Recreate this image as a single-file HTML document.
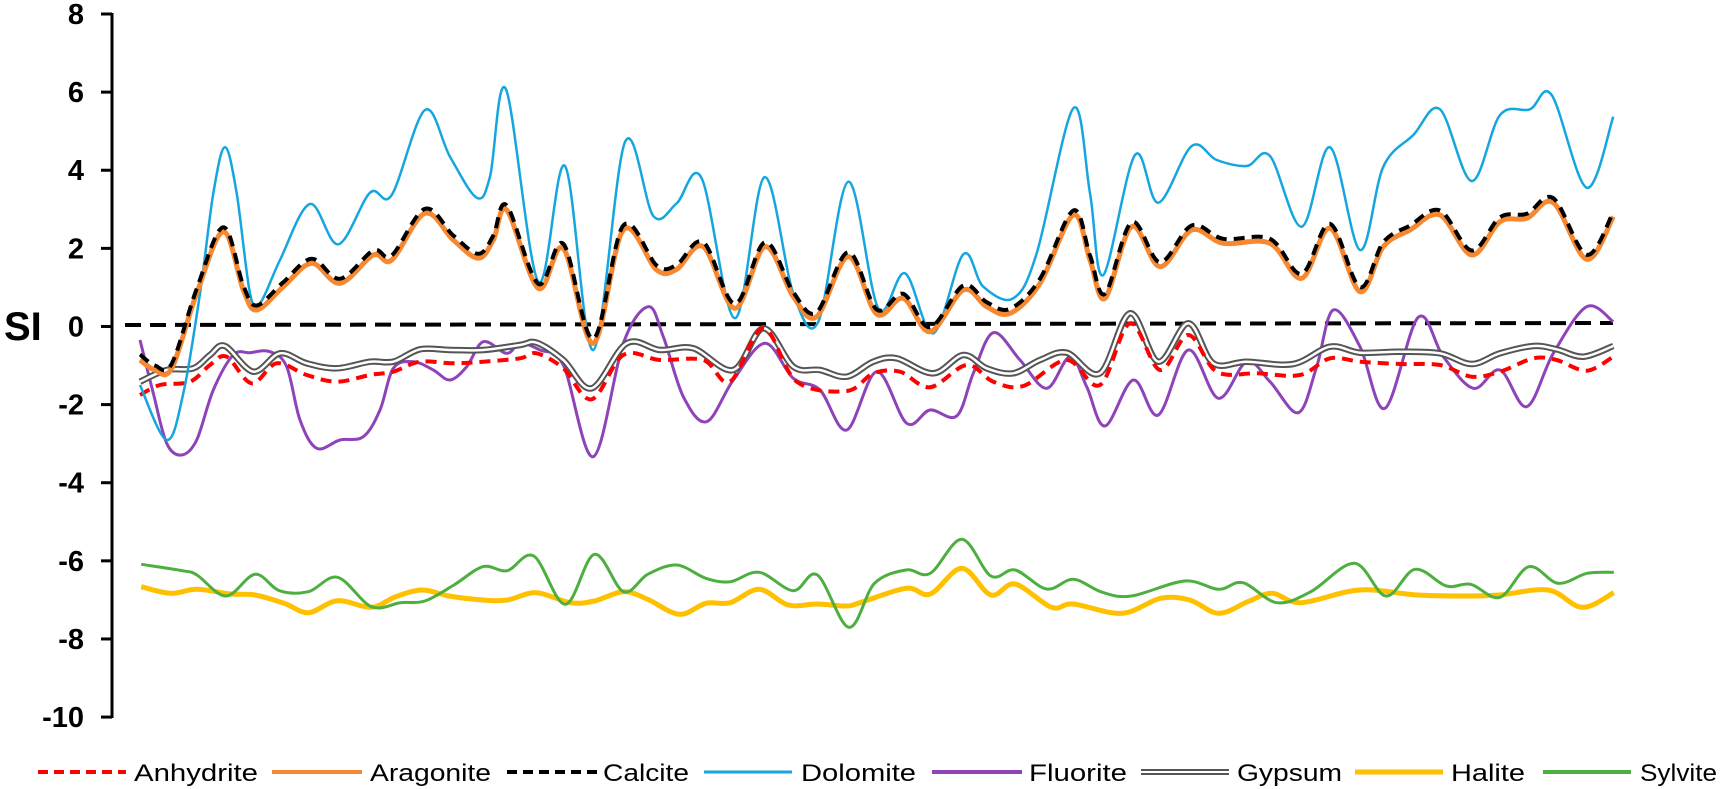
<!DOCTYPE html>
<html><head><meta charset="utf-8"><style>
html,body{margin:0;padding:0;background:#fff;}
svg{display:block;font-family:"Liberation Sans",sans-serif;}
</style></head><body>
<svg id="c" width="1720" height="789" viewBox="0 0 1720 789" xmlns="http://www.w3.org/2000/svg">
<rect width="1720" height="789" fill="#fff"/>
<g id="axis" stroke="#000" stroke-width="3" fill="none">
<line x1="112" y1="13" x2="112" y2="718"/>
</g>
<g id="ticks" stroke="#000" stroke-width="3"></g>
<g id="labels" font-weight="bold" font-size="29" text-anchor="end" fill="#000"></g>
<text x="4" y="340" font-size="40" font-weight="bold">SI</text>
<g id="series"></g>
<g id="legend" font-size="24" fill="#000"></g>
</svg>
<script>
var NS="http://www.w3.org/2000/svg";
function el(tag,attrs,parent,txt){var e=document.createElementNS(NS,tag);for(var k in attrs)e.setAttribute(k,attrs[k]);if(txt!==undefined)e.textContent=txt;parent.appendChild(e);return e;}
var tg=document.getElementById('ticks'),lg=document.getElementById('labels');
for(var v=8;v>=-10;v-=2){var y=14+(8-v)*39.06;el('line',{x1:101,y1:y,x2:112,y2:y},tg);el('text',{x:84,y:y+10},lg,String(v));}
function P(ox,arr){return arr.map(function(p){return [ox+p[0]/3,60+p[1]/3];});}
function Q(ox,arr){return arr.map(function(p){return [ox+p[0]/2.063,520+p[1]/3];});}
function path(pts){var d="M"+pts[0][0].toFixed(1)+","+pts[0][1].toFixed(1);for(var i=0;i<pts.length-1;i++){var p0=pts[i-1]||pts[i],p1=pts[i],p2=pts[i+1],p3=pts[i+2]||p2;var t=6;var c1=[p1[0]+(p2[0]-p0[0])/t,p1[1]+(p2[1]-p0[1])/t],c2=[p2[0]-(p3[0]-p1[0])/t,p2[1]-(p3[1]-p1[1])/t];d+="C"+c1[0].toFixed(1)+","+c1[1].toFixed(1)+" "+c2[0].toFixed(1)+","+c2[1].toFixed(1)+" "+p2[0].toFixed(1)+","+p2[1].toFixed(1);}return d;}
function cat(){var r=[];for(var i=0;i<arguments.length;i++)r=r.concat(arguments[i]);return r;}
function shift(a,dy){return a.map(function(p){return [p[0],p[1]+dy];});}
var dol=cat(P(100,[[120,975],[200,1140],[250,1000],[300,700],[340,400],[375,262],[410,400],[450,700],[480,730],[540,600],[630,432],[715,553],[810,398],[875,405],[975,150],[1050,290],[1130,413],[1170,350],[1218,88]]),
P(520,[[55,665],[135,318],[220,870],[315,246],[400,468],[470,430],[545,355],[645,775],[733,352],[820,700],[895,785],[985,365],[1075,745],[1155,640],[1240,820]]),
P(940,[[70,583],[130,680],[220,715],[290,580],[400,145],[450,400],[490,645],[585,285],[655,428],[755,258],[830,300],[920,318],[990,288],[1085,500],[1170,262]]),
P(1300,[[180,570],[250,320],[340,225],[420,148],[515,363],[600,165],[690,148],[755,105],[860,383],[940,170]]));
var arag=cat(P(100,[[120,900],[165,930],[215,925],[290,700],[370,515],[430,690],[470,750],[550,680],[635,610],[720,670],[820,585],[875,600],[975,460],[1060,540],[1135,595],[1180,540],[1220,450]]),
P(520,[[55,685],[130,565],[220,850],[310,510],[410,630],[470,628],[550,560],[645,745],[735,560],[820,710],[890,770],[985,590],[1070,762],[1150,715],[1230,815]]),
P(940,[[70,690],[140,740],[210,760],[300,670],[400,465],[450,600],[495,715],[575,500],[660,620],[755,510],[850,550],[990,550],[1085,655],[1170,505]]),
P(1300,[[180,695],[250,560],[330,510],[420,465],[515,585],[600,485],[680,475],[760,428],[860,598],[940,470]]));
var calc=shift(arag,-4.5);calc[0]=[calc[0][0],calc[0][1]-1];
var gyp=cat(P(100,[[120,965],[200,930],[280,925],[330,885],[375,858],[460,935],[540,880],[620,910],[710,925],[810,905],[880,905],[960,868],[1050,870],[1150,870]]),
P(520,[[0,855],[50,848],[130,900],[215,985],[320,850],[420,870],[520,865],[640,930],[730,805],[820,920],[900,930],[980,950],[1060,905],[1130,895],[1240,940]]),
P(940,[[70,885],[140,925],[220,940],[300,900],[380,878],[480,940],[570,760],[655,905],[745,790],[820,910],[920,905],[1060,912],[1170,860]]),
P(1300,[[180,878],[300,875],[420,880],[515,912],[600,880],[700,858],[770,868],[850,890],[940,858]]));
var anh=cat(P(100,[[120,1005],[180,975],[270,965],[330,915],[380,890],[455,970],[530,910],[620,945],[710,965],[810,945],[880,935],[960,905],[1060,910],[1150,905]]),
P(520,[[0,895],[50,880],[130,925],[215,1018],[310,885],[420,900],[550,900],[630,965],[730,805],[830,965],[980,993],[1060,940],[1140,935],[1230,982]]),
P(940,[[80,915],[160,965],[250,978],[380,900],[480,975],[570,790],[660,930],[745,825],[830,935],[950,940],[1080,945],[1170,895]]),
P(1300,[[180,905],[300,912],[420,915],[515,950],[600,935],[700,895],[770,900],[860,932],[940,890]]));
var flu=cat(P(100,[[120,840],[160,1000],[200,1150],[245,1185],[290,1140],[340,990],[400,885],[450,878],[510,875],[560,920],[600,1080],[650,1165],[720,1140],[790,1130],[840,1050],[880,925],[940,905],[1000,930],[1050,960],[1100,920],[1150,845],[1220,880]]),
P(520,[[0,850],[60,870],[130,915],[220,1190],[310,850],[385,740],[430,830],[490,1010],[560,1085],[640,960],[735,850],[820,955],[900,990],[980,1110],[1070,935],[1160,1090],[1230,1050]]),
P(940,[[50,1068],[100,940],[160,818],[240,900],[320,985],[390,890],[440,980],[495,1098],[580,960],[655,1065],[745,870],[835,1015],[920,905],[990,965],[1075,1058],[1130,920],[1180,750]]),
P(1300,[[180,860],[255,1045],[355,772],[430,890],[520,985],[600,930],[680,1040],[760,880],[860,740],[940,785]]));
var syl=cat(Q(100,[[85,133],[170,152],[200,165],[260,228],[320,163],[370,212],[430,215],[490,172],[560,260],[620,248],[670,243],[730,195],[790,140],[840,152],[895,108],[960,253],[1020,103],[1080,215],[1130,163],[1190,135],[1250,175],[1300,185],[1360,157],[1430,212],[1480,165],[1545,322]]),
Q(860,[[30,190],[95,150],[145,160],[210,58],[270,168],[320,150],[385,207],[440,178],[500,217],[560,228],[670,183],[740,208],[790,188],[860,248],[930,215],[1020,130],[1085,228],[1145,148],[1210,198],[1260,193],[1320,232],[1380,140],[1440,190],[1500,160],[1555,157]]));
var hal=cat(Q(100,[[85,200],[145,220],[200,208],[270,222],[320,225],[380,250],[430,278],[490,242],[560,262],[610,230],[665,210],[720,228],[790,240],[840,240],[900,218],[970,248],[1020,243],[1080,215],[1130,238],[1195,283],[1250,250],[1300,248],[1360,208],[1420,255],[1480,252],[1540,258]]),
Q(860,[[0,248],[95,205],[145,222],[210,145],[270,225],[320,192],[395,262],[440,252],[540,280],[620,235],[680,240],[740,280],[800,245],[850,220],[910,248],[1030,210],[1150,225],[1250,228],[1320,225],[1420,210],[1490,262],[1555,218]]));
var s=document.getElementById('series');
el('line',{x1:125,y1:325,x2:1613,y2:323,stroke:'#000','stroke-width':4,'stroke-dasharray':'16 9'},s);
function draw(pts,st){st.d=path(pts);st.fill='none';st['stroke-linejoin']='round';el('path',st,s);}
draw(hal,{stroke:'#FFC000','stroke-width':5});
draw(syl,{stroke:'#4DAF3F','stroke-width':3});
draw(flu,{stroke:'#8E44B8','stroke-width':3});
draw(gyp,{stroke:'#555','stroke-width':6.5});
draw(gyp,{stroke:'#fff','stroke-width':2.5});
draw(anh,{stroke:'#FF0000','stroke-width':4,'stroke-dasharray':'11 7'});
draw(dol,{stroke:'#16A6DF','stroke-width':2.5});
draw(arag,{stroke:'#F7882F','stroke-width':5});
draw(calc,{stroke:'#000','stroke-width':4,'stroke-dasharray':'11 7'});
var L=document.getElementById('legend');
var items=[[38,126,134,258,'Anhydrite',{stroke:'#FF0000','stroke-width':4,'stroke-dasharray':'10 6'}],
[272,362,370,491,'Aragonite',{stroke:'#F7882F','stroke-width':4}],
[507,598,603,689,'Calcite',{stroke:'#000','stroke-width':4,'stroke-dasharray':'10 6'}],
[704,792,801,916,'Dolomite',{stroke:'#16A6DF','stroke-width':3}],
[932,1022,1029,1127,'Fluorite',{stroke:'#8E44B8','stroke-width':4}],
[1141,1229,1237,1342,'Gypsum',{stroke:'#555','stroke-width':6}],
[1355,1443,1451,1525,'Halite',{stroke:'#FFC000','stroke-width':5}],
[1543,1631,1640,1717,'Sylvite',{stroke:'#4DAF3F','stroke-width':4}]];
items.forEach(function(it){var a=it[5];a.x1=it[0];a.x2=it[1];a.y1=772;a.y2=772;el('line',a,L);
if(it[4]==='Gypsum')el('line',{x1:it[0],x2:it[1],y1:772,y2:772,stroke:'#fff','stroke-width':2},L);
el('text',{x:it[2],y:781,textLength:it[3]-it[2],lengthAdjust:'spacingAndGlyphs'},L,it[4]);});
</script>
</body></html>
